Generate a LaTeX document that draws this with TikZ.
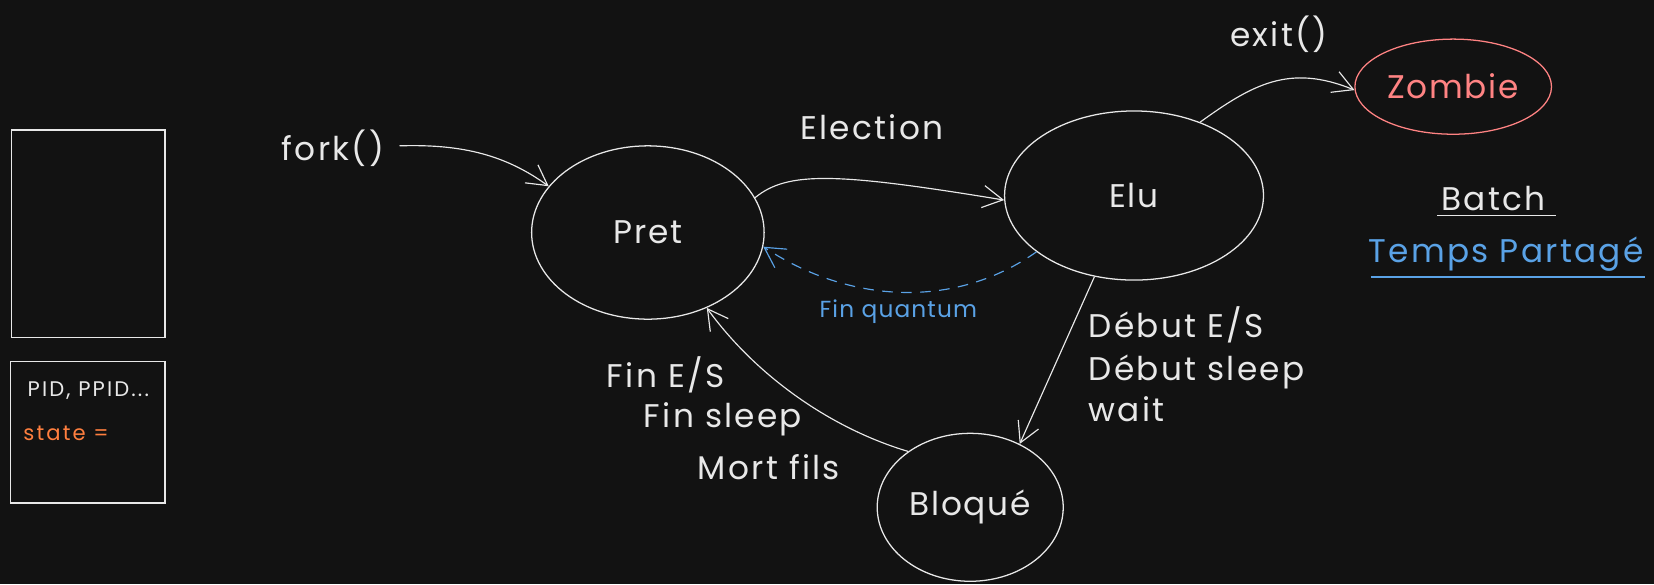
\documentclass[tikz,border=0pt]{standalone}
\usepackage{fontspec}
\setmainfont{Poppins}
\newfontfamily\handS[LetterSpace=5]{Poppins}
\newfontfamily\handL[LetterSpace=7]{Poppins}
\newfontfamily\handQ[LetterSpace=5]{Poppins}
\newfontfamily\handP[LetterSpace=10]{Poppins}
\usetikzlibrary{arrows.meta,shapes.geometric}
\definecolor{bg}{HTML}{121212}
\definecolor{fg}{HTML}{E8E8E8}
\definecolor{bluec}{HTML}{5AA2E6}
\definecolor{redc}{HTML}{FF8383}
\definecolor{orangec}{HTML}{FF7F3F}
\tikzset{
  st/.style={ellipse, draw=fg, line width=1.2pt, text=fg, font=\handS\fontsize{31}{35}\selectfont},
  lbl/.style={text=fg, font=\handL\fontsize{31}{35}\selectfont, inner sep=0pt},
  conn/.style={draw=fg, line width=1.1pt, -{Straight Barb[length=19pt,width=21pt,line width=1.1pt]}},
  box/.style={draw=fg, line width=1.2pt, minimum width=145pt, inner sep=0pt},
  small/.style={font=\handP\fontsize{20}{23}\selectfont, inner sep=0pt, anchor=west}
}
\begin{document}
\begin{tikzpicture}[x=1pt,y=-1pt]
\fill[bg] (0,0) rectangle (1565,553);
\useasboundingbox (0,0) rectangle (1565,553);
% boxes
\node[box, minimum height=196pt] (mem) at (83.5,221) {};
\node[box, minimum height=134pt, minimum width=146pt] (pcb) at (83,409) {};
\node[small, text=fg] (pid) at (26,370) {PID, PPID...};
\node[small, text=orangec] (state) at (22,410) {state =};
% states
\node[st, minimum width=220pt, minimum height=164pt] (pret) at (613,220) {Pret};
\node[st, minimum width=245pt, minimum height=160pt] (elu) at (1073,185) {Elu};
\node[st, minimum width=186pt, minimum height=90pt, draw=redc, text=redc] (zombie) at (1375,82) {Zombie};
\node[st, minimum width=176pt, minimum height=140pt] (bloque) at (918,480) {Bloqué};
% labels
\node[lbl] (fork) at (315,140) {fork()};
\node[lbl] (election) at (825,120) {Election};
\node[lbl] (exit) at (1210,32) {exit()};
\node[text=bluec, font=\handQ\fontsize{22}{26}\selectfont, inner sep=0pt] (fq) at (850,295) {Fin quantum};
\node[lbl, anchor=west] (deb1) at (1030,307) {Début E/S};
\node[lbl, anchor=west] (deb2) at (1030,352) {Début sleep};
\node[lbl, anchor=west] (deb3) at (1030,387) {wait};
\node[lbl, anchor=west] (fin1) at (574,355) {Fin E/S};
\node[lbl, anchor=west] (fin2) at (609,397) {Fin sleep};
\node[lbl, anchor=west] (fin3) at (660,442) {Mort fils};
\node[lbl] (batch) at (1413,188) {Batch};
\node[lbl, text=bluec] (temps) at (1425,240) {Temps Partagé};
\draw[fg, line width=1.2pt] (1360,204) -- (1472,204);
\draw[bluec, line width=1.2pt] (1297,262) -- (1556,262);
% connectors
\coordinate (forkend) at (378,138);
\draw[conn] (forkend) .. controls (440,136) and (480,148) .. (pret.155);
\draw[conn] (pret.18) .. controls (745,162) and (790,163) .. (elu.182);
\draw[conn, draw=bluec, dashed, dash pattern=on 10pt off 8pt] (elu.-150) .. controls (900,295) and (800,285) .. (pret.-7);
\draw[conn] (elu.48) .. controls (1185,80) and (1220,60) .. (zombie.182);
\draw[conn] (elu.-116) -- (bloque.52);
\draw[conn] (bloque.138) .. controls (785,405) and (715,355) .. (pret.-52);
\end{tikzpicture}
\end{document}
